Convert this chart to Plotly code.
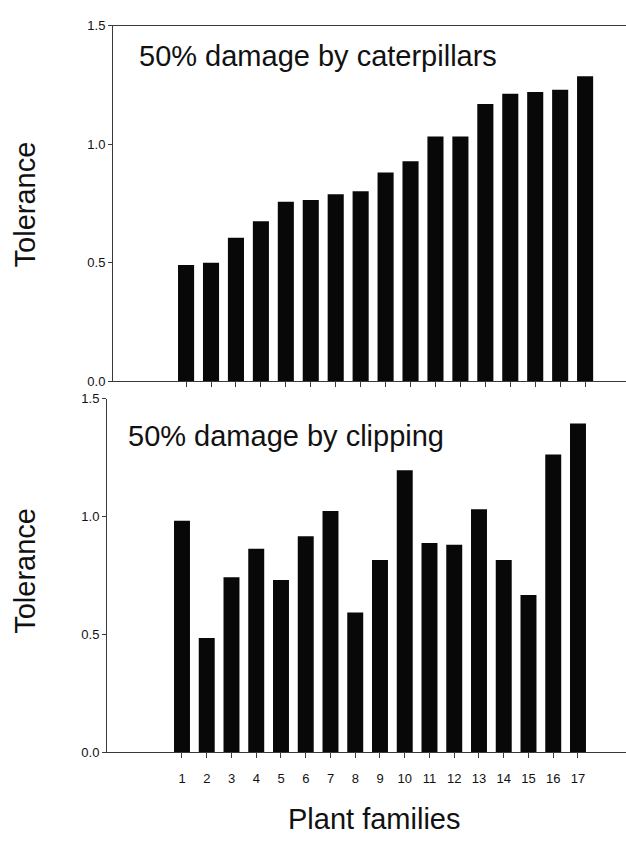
import plotly.graph_objects as go

W, H = 626, 843

families = list(range(1, 18))
family_labels = [str(i) for i in families]
caterpillar_tolerance = [0.49, 0.50, 0.605, 0.675, 0.757, 0.765, 0.789, 0.801, 0.88,
                         0.928, 1.032, 1.032, 1.17, 1.213, 1.22, 1.23, 1.287]
clipping_tolerance = [0.983, 0.486, 0.743, 0.864, 0.732, 0.917, 1.024, 0.594, 0.817,
                      1.197, 0.889, 0.881, 1.032, 0.817, 0.668, 1.264, 1.396]
y_ticks = [0.0, 0.5, 1.0, 1.5]

FONT = "Liberation Sans, Arial, Helvetica, sans-serif"
LINE = "#3a3a3a"
BAR = "#080808"

fig = go.Figure()
fig.add_bar(x=families, y=caterpillar_tolerance, xaxis="x", yaxis="y",
            width=0.645, marker=dict(color=BAR, line=dict(width=0)))
fig.add_bar(x=families, y=clipping_tolerance, xaxis="x2", yaxis="y2",
            width=0.645, marker=dict(color=BAR, line=dict(width=0)))

def px_x(p):
    return p / W

def px_y(p):
    return 1 - p / H

common_x = dict(showgrid=False, zeroline=False, showline=True, linecolor=LINE, linewidth=1,
                ticks="outside", ticklen=5, tickcolor=LINE, tickwidth=1,
                tickvals=families, tickfont=dict(family=FONT, size=13, color="#111"))
common_y = dict(showgrid=False, zeroline=False, showline=True, linecolor=LINE, linewidth=1,
                ticks="outside", ticklen=4, tickcolor=LINE, tickwidth=1,
                range=[0, 1.5], tickvals=y_ticks, tickformat=".1f",
                tickfont=dict(family=FONT, size=13, color="#111"))

fig.update_layout(
    width=W, height=H,
    margin=dict(l=0, r=0, t=0, b=0),
    paper_bgcolor="white", plot_bgcolor="white",
    showlegend=False,
    xaxis=dict(common_x, domain=[px_x(113), 1], anchor="y", range=[-1.93, 18.64],
               showticklabels=False, mirror=True),
    yaxis=dict(common_y, domain=[px_y(381), px_y(19)], anchor="x"),
    xaxis2=dict(common_x, domain=[px_x(107), 1], anchor="y2", range=[-2.03, 18.94],
                ticktext=family_labels, ticklabelstandoff=9),
    yaxis2=dict(common_y, domain=[px_y(759), px_y(399)], anchor="x2"),
    annotations=[
        dict(text="50% damage by caterpillars", x=px_x(137), y=px_y(50), xref="paper", yref="paper",
             xanchor="left", yanchor="middle", showarrow=False,
             font=dict(family=FONT, size=29, color="#111")),
        dict(text="50% damage by clipping", x=px_x(126), y=px_y(437), xref="paper", yref="paper",
             xanchor="left", yanchor="middle", showarrow=False,
             font=dict(family=FONT, size=29, color="#111")),
        dict(text="Tolerance", x=px_x(25), y=px_y(201), xref="paper", yref="paper",
             xanchor="center", yanchor="middle", textangle=-90, showarrow=False,
             font=dict(family=FONT, size=29, color="#111")),
        dict(text="Tolerance", x=px_x(25), y=px_y(574), xref="paper", yref="paper",
             xanchor="center", yanchor="middle", textangle=-90, showarrow=False,
             font=dict(family=FONT, size=29, color="#111")),
        dict(text="Plant families", x=px_x(374), y=px_y(827), xref="paper", yref="paper",
             xanchor="center", yanchor="middle", showarrow=False,
             font=dict(family=FONT, size=29, color="#111")),
    ],
)

fig.write_html("out.html", config={"displayModeBar": False},
               post_script="document.body.style.margin='0';document.body.style.overflow='hidden';")
